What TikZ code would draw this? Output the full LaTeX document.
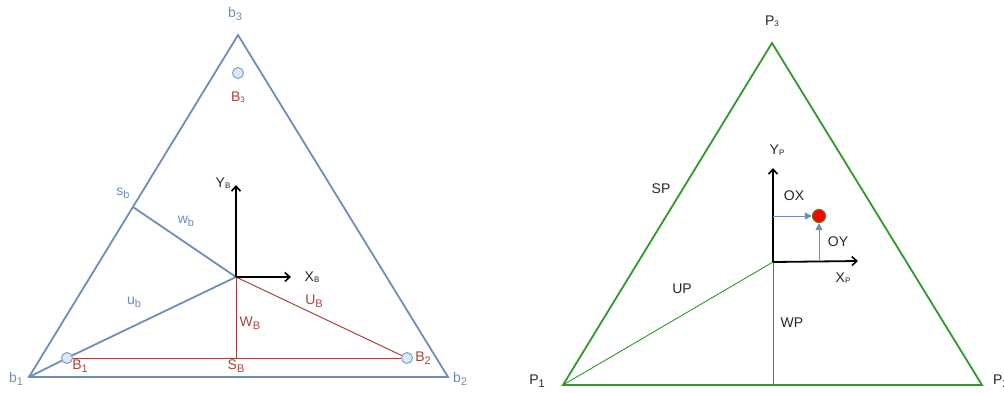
\documentclass[tikz,border=0pt]{standalone}
\usepackage{fontspec}
\setmainfont{Liberation Sans}
\usetikzlibrary{arrows.meta}
\definecolor{bblue}{HTML}{6C8EBF}
\definecolor{bfill}{HTML}{DAE8FC}
\definecolor{bred}{HTML}{A8443C}
\definecolor{tgreen}{HTML}{2E9A2A}
\definecolor{dotedge}{HTML}{5A7A1A}
\tikzset{
  lbl/.style={font=\fontsize{14}{16}\selectfont, inner sep=0pt},
  blbl/.style={lbl, text=bblue},
  rlbl/.style={lbl, text=bred},
  klbl/.style={lbl, text=black!85},
  tri/.style={line width=1.8pt, line join=miter},
  axis/.style={line width=1.8pt, -{Straight Barb[length=5pt,width=9pt,line width=1.6pt]}},
  smallarr/.style={bblue, line width=1pt, -{Triangle[length=7pt,width=7pt]}},
  bcirc/.style={circle, draw=bblue, fill=bfill, line width=0.8pt, minimum size=11pt, inner sep=0pt},
}
\newcommand{\sbs}[1]{\raisebox{-0.4ex}{\fontsize{11}{12}\selectfont #1}}
\newcommand{\tsbs}[1]{\raisebox{-0.2ex}{\fontsize{8}{9}\selectfont #1}}
\begin{document}
\begin{tikzpicture}[x=1pt,y=-1pt]
\useasboundingbox (0,0) rectangle (1004,392);
% ---------- left triangle ----------
\coordinate (b1) at (29,377);
\coordinate (b2) at (448,377);
\coordinate (b3) at (238,35);
\coordinate (O) at (236,277);
\coordinate (sbf) at (133,207);
\coordinate (SBf) at (236,358);
\draw[tri, bblue] (b1) -- (b2) -- (b3) -- cycle;
\node[bcirc] (B1) at (67,358) {};
\node[bcirc] (B2) at (407,358) {};
\node[bcirc] (B3) at (238,73) {};
\draw[bred, line width=1pt] (B1) -- (B2);
\draw[bred, line width=1pt] (O) -- (B2);
\draw[bred, line width=1pt] (O) -- (SBf);
\draw[bblue, line width=1.8pt] (sbf) -- (O);
\draw[bblue, line width=1.8pt] (b1) -- (B1) -- (O);
\coordinate (Ytip) at (236,185);
\coordinate (Xtip) at (291,277);
\draw[axis] (O) -- (Ytip);
\draw[axis] (O) -- (Xtip);
\node[blbl] (lb3) at (235,14) {b\sbs{3}};
\node[blbl] (lb1) at (16,379) {b\sbs{1}};
\node[blbl] (lb2) at (460,379) {b\sbs{2}};
\node[blbl] (lsb) at (123,193) {s\sbs{b}};
\node[blbl] (lwb) at (186,221) {w\sbs{b}};
\node[blbl] (lub) at (134,302) {u\sbs{b}};
\node[rlbl] (lB3) at (238,97) {B\tsbs{3}};
\node[rlbl] (lB1) at (80,366) {B\sbs{1}};
\node[rlbl] (lB2) at (423,358) {B\sbs{2}};
\node[rlbl] (lUB) at (314,301) {U\sbs{B}};
\node[rlbl] (lWB) at (250,323) {W\sbs{B}};
\node[rlbl] (lSB) at (236,366) {S\sbs{B}};
\node[klbl] (lYB) at (223,183) {Y\tsbs{B}};
\node[klbl] (lXB) at (312,277) {X\tsbs{B}};
% ---------- right triangle ----------
\coordinate (P1) at (563,385);
\coordinate (P2) at (982,385);
\coordinate (P3) at (772,43);
\coordinate (Q) at (773,262);
\coordinate (Qb) at (773,385);
\draw[tri, tgreen] (P1) -- (P2) -- (P3) -- cycle;
\draw[tgreen, line width=0.9pt] (P1) -- (Q);
\draw[tgreen, line width=0.9pt] (Q) -- (Qb);
\coordinate (YPtip) at (773,168);
\coordinate (XPtip) at (858,261);
\draw[axis] (Q) -- (YPtip);
\draw[axis] (Q) -- (XPtip);
\node[circle, draw=dotedge, fill=red, line width=1.2pt, minimum width=13pt, minimum height=13pt, inner sep=0pt] (dot) at (819,216) {};
\coordinate (oxs) at (773,216);
\coordinate (oys) at (819,261);
\draw[smallarr] (oxs) -- (dot.west);
\draw[smallarr] (oys) -- (dot.south);
\node[klbl] (lP3) at (772,21) {P\tsbs{3}};
\node[klbl] (lP1) at (537,381) {P\sbs{1}};
\node[klbl, anchor=west] (lP2) at (993,381) {P\sbs{2}};
\node[klbl] (lSP) at (661,189) {SP};
\node[klbl] (lUP) at (682,289) {UP};
\node[klbl] (lWP) at (792,323) {WP};
\node[klbl] (lOX) at (794,196) {OX};
\node[klbl] (lOY) at (838,242) {OY};
\node[klbl] (lYP) at (777,150) {Y\tsbs{P}};
\node[klbl] (lXP) at (843,278) {X\tsbs{P}};
\end{tikzpicture}
\end{document}
